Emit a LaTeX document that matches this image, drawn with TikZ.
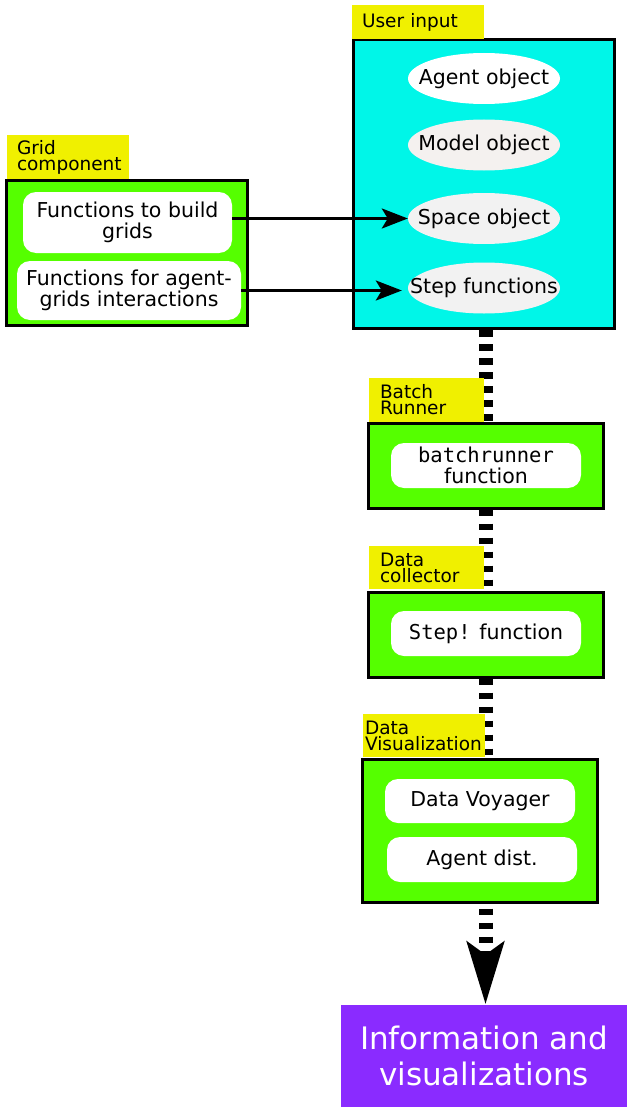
\documentclass[tikz,border=0pt]{standalone}
\usepackage{fontspec}
\setmainfont{DejaVu Sans}
\setmonofont{DejaVu Sans Mono}
\usetikzlibrary{shapes.geometric,arrows.meta,backgrounds}
\definecolor{lblyellow}{RGB}{240,240,0}
\definecolor{boxcyan}{RGB}{0,246,232}
\definecolor{boxgreen}{RGB}{85,255,0}
\definecolor{infopurple}{RGB}{138,43,255}
\definecolor{ellgreyA}{RGB}{244,241,239}
\definecolor{ellgreyB}{RGB}{242,242,242}
\hyphenpenalty=10000
\exhyphenpenalty=10000
\begin{document}
\begin{tikzpicture}[x=1pt,y=-1pt,
  lbl/.style={fill=lblyellow, inner ysep=0pt, align=left,
    font=\fontsize{18.5}{16}\selectfont},
  bigbox/.style={draw=black, line width=3pt, inner sep=0pt},
  inbox/.style={fill=white, rounded corners=13pt, inner sep=0pt, align=center,
    font=\fontsize{20.5}{21}\selectfont},
  obj/.style={ellipse, inner sep=0pt, minimum width=152pt, minimum height=51pt,
    font=\fontsize{20.5}{21}\selectfont},
  link/.style={line width=3pt, -{Stealth[length=26pt,width=20pt,inset=6pt]}},
  flow/.style={line width=14pt, dash pattern=on 6.5pt off 7.5pt}]
\useasboundingbox (0,0) rectangle (632,1113);

% User input
\node[bigbox, fill=boxcyan, minimum width=261pt, minimum height=289pt] (ui) at (483.5,184) {};
\node[lbl, minimum height=34pt, text width=112pt, inner xsep=10pt] (uil) at (418,22) {User input};
\node[obj, fill=white] (ag) at (484,78.5) {\makebox[0pt]{Agent object}};
\node[obj, fill=ellgreyA] (mo) at (484,145) {\makebox[0pt]{Model object}};
\node[obj, fill=ellgreyB] (sp) at (484,218.5) {\makebox[0pt]{Space object}};
\node[obj, fill=ellgreyB] (st) at (484,288) {\makebox[0pt]{Step functions}};

% Grid component
\node[bigbox, fill=boxgreen, minimum width=241pt, minimum height=145pt] (grid) at (127,252.5) {};
\node[lbl, minimum height=44pt, text width=102pt, inner xsep=10pt] (gridl) at (68,157) {Grid\\component};
\node[inbox, minimum width=209pt, minimum height=61pt] (gb1) at (127.5,222.5) {Functions to build\\grids};
\node[inbox, minimum width=224pt, minimum height=59pt] (gb2) at (129,290.5) {Functions for agent-\\grids interactions};

\draw[link] (gb1.east |- sp.west) -- (sp.west);
\draw[link, shorten >=6pt] (gb2.east) -- (st.west |- gb2.east);

% Batch runner
\node[bigbox, fill=boxgreen, minimum width=235pt, minimum height=85pt] (batch) at (485.5,465.5) {};
\node[lbl, minimum height=44pt, text width=93pt, inner xsep=11pt] (batchl) at (426.5,400) {Batch\\Runner};
\node[inbox, minimum width=190pt, minimum height=45pt] (bi) at (486,465.5) {\texttt{batchrunner}\\function};

% Data collector
\node[bigbox, fill=boxgreen, minimum width=235pt, minimum height=85pt] (coll) at (485.5,634.5) {};
\node[lbl, minimum height=43pt, text width=93pt, inner xsep=11pt] (colll) at (426.5,567.5) {Data\\collector};
\node[inbox, minimum width=190pt, minimum height=45pt] (ci) at (486,633.5) {\texttt{Step!} function};

% Data visualization
\node[bigbox, fill=boxgreen, minimum width=235pt, minimum height=143pt] (vis) at (479.5,830.5) {};
\node[lbl, minimum height=43pt, text width=118pt, inner xsep=2pt] (visl) at (424,735.5) {Data\\Visualization};
\node[inbox, minimum width=190pt, minimum height=44pt] (v1) at (480,801) {Data Voyager};
\node[inbox, minimum width=190pt, minimum height=45pt] (v2) at (482,859.5) {Agent dist.};

% Output
\node[fill=infopurple, text=white, minimum width=286pt, minimum height=102pt, align=center,
  font=\fontsize{31}{36.7}\selectfont] (info) at (484,1056) {Information and\\visualizations};

\begin{pgfonlayer}{background}
\draw[flow] (batch.north |- ui.south) -- (batch.north);
\draw[flow] (batch.south) -- (coll.north -| batch.south);
\draw[flow] (coll.south -| batch.south) -- (vis.north -| batch.south);
\end{pgfonlayer}
\draw[flow, -{Stealth[length=62pt,width=36pt,inset=12pt]}] (vis.south -| batch.south) ++(0,5) -- (info.north -| batch.south);
\end{tikzpicture}
\end{document}
